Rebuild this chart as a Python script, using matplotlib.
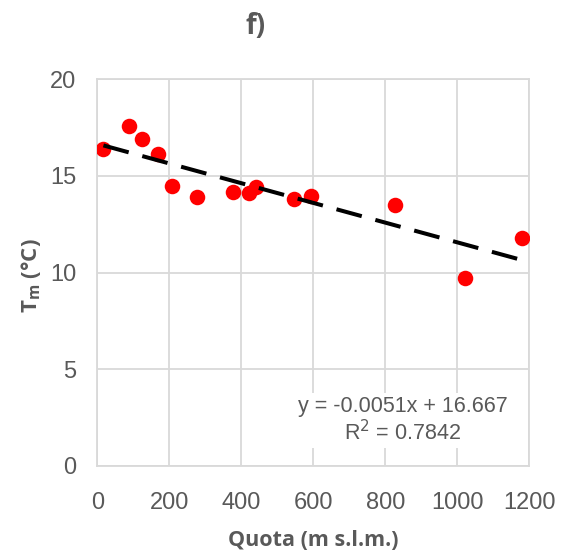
import matplotlib.pyplot as plt
import numpy as np

# Station altitude (m a.s.l.) and mean temperature (°C)
quota = [17, 89, 124, 168, 207, 278, 377, 422, 441, 546, 593, 827, 1021, 1179]
temp_m = [16.4, 17.6, 16.9, 16.15, 14.5, 13.9, 14.15, 14.1, 14.45, 13.8, 13.95, 13.5, 9.7, 11.8]

# Linear fit reported on the chart
slope = -0.0051
intercept = 16.667
r2 = 0.7842

x_ticks = [0, 200, 400, 600, 800, 1000, 1200]
y_ticks = [0, 5, 10, 15, 20]

W, H = 572, 559
fig = plt.figure(figsize=(W / 100, H / 100), dpi=100)
ax = fig.add_axes([97.3 / W, 1 - 466 / H, (529.3 - 97.3) / W, (466 - 79.3) / H])

grid_c = "#d9d9d9"
text_c = "#595959"

ax.set_xlim(0, 1200)
ax.set_ylim(0, 20)
ax.set_xticks(x_ticks)
ax.set_yticks(y_ticks)
ax.grid(True, color=grid_c, linewidth=1.3, zorder=0)
for sp in ax.spines.values():
    sp.set_color(grid_c)
    sp.set_linewidth(1.3)
ax.tick_params(length=0, labelsize=17, labelcolor=text_c, pad=15)
ax.tick_params(axis="x", pad=19)
for lbl in ax.get_xticklabels() + ax.get_yticklabels():
    lbl.set_family("Liberation Sans")

ax.scatter(quota, temp_m, s=125, color="#ff0000", zorder=3, linewidths=0)

xf = np.array([min(quota), max(quota)])
ax.plot(xf, slope * xf + intercept, color="black", linewidth=2.9,
        dashes=(6.5, 3.5), zorder=4)

ax.text(1140, 2.35, f"y = {slope}x + {intercept}\nR$^2$ = {r2}",
        ha="right", va="center", fontsize=15.5, color=text_c,
        family="Liberation Sans", linespacing=1.15, multialignment="center",
        bbox=dict(facecolor="white", edgecolor="none", pad=2), zorder=5)

ax.set_xlabel("Quota (m s.l.m.)", fontsize=15.5, fontweight="bold", color=text_c,
              family="Open Sans")
ax.set_ylabel("T$_\\mathregular{m}$ (°C)", fontsize=16, fontweight="bold",
              color=text_c, family="Open Sans")
ax.xaxis.label.set_va("center")
ax.yaxis.label.set_va("center")
ax.xaxis.set_label_coords(0.5, -(540 - 466) / (466 - 79.3))
ax.yaxis.set_label_coords(-(97.3 - 31) / (529.3 - 97.3), (466 - 276) / (466 - 79.3))

fig.text(256 / W, 1 - 27 / H, "f)", ha="center", va="center", fontsize=20,
         fontweight="bold", color=text_c, family="Open Sans")

fig.savefig("out.png", dpi=100)
